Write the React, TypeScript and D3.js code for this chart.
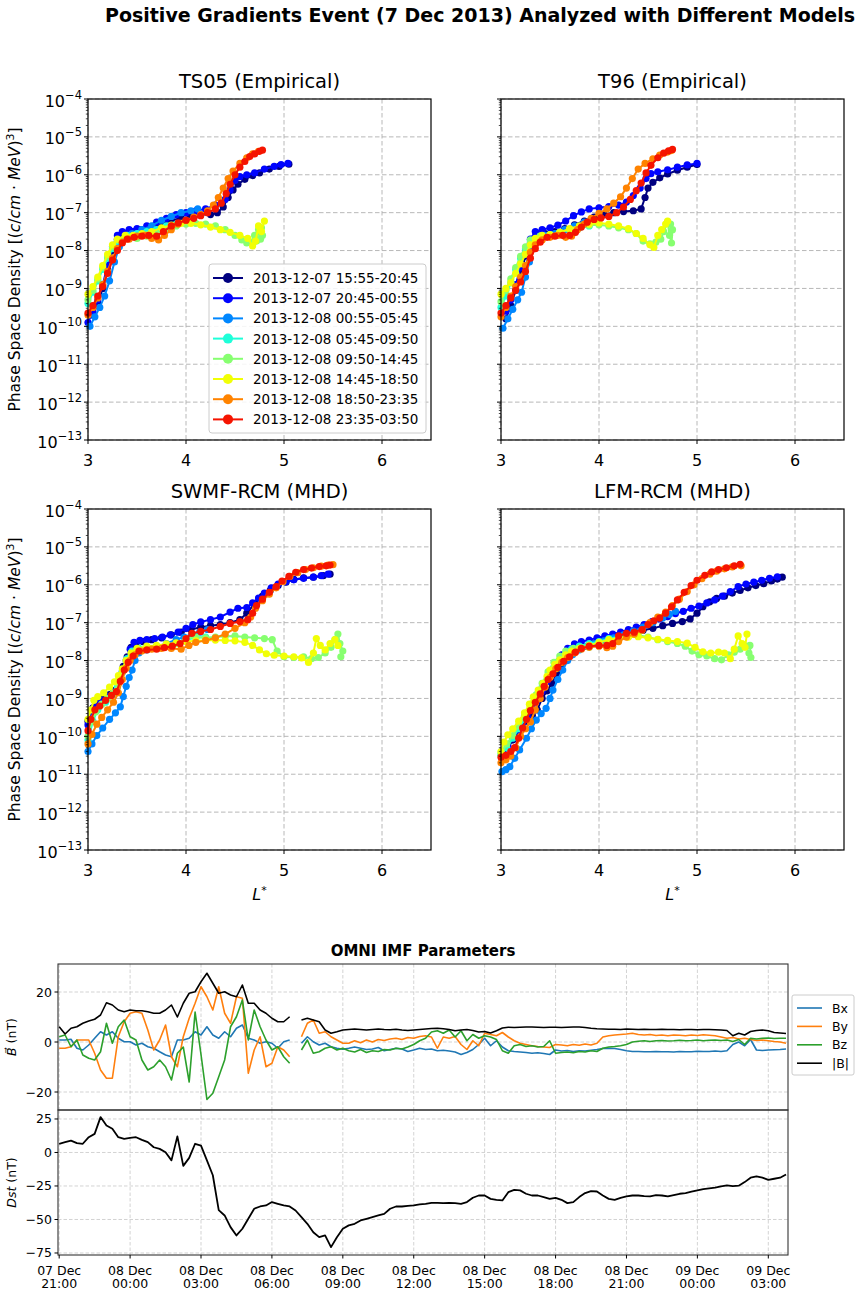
import React from "react";
import * as d3 from "d3";

const FONT = "DejaVu Sans, Verdana, sans-serif";

// eight passes, colored along the jet colormap
const PASS_LABELS = [
  "2013-12-07 15:55-20:45",
  "2013-12-07 20:45-00:55",
  "2013-12-08 00:55-05:45",
  "2013-12-08 05:45-09:50",
  "2013-12-08 09:50-14:45",
  "2013-12-08 14:45-18:50",
  "2013-12-08 18:50-23:35",
  "2013-12-08 23:35-03:50",
];
const PASS_COLORS = ["#000080", "#0004ff", "#0087ff", "#1effd9", "#87ff70", "#f1ff06", "#ff8300", "#f51400"];

const L_TICKS = [3, 4, 5, 6];
const PSD_EXPONENTS = [-4, -5, -6, -7, -8, -9, -10, -11, -12, -13];

// ---- TS05 panel, [L*, log10 PSD] ----
const TS05_1 = [[3.05,-9.7],[3.1,-9.4],[3.15,-9.0],[3.2,-8.5],[3.25,-8.0],[3.3,-7.7],[3.35,-7.55],[3.45,-7.5],[3.55,-7.45],[3.65,-7.4],[3.75,-7.3],[3.85,-7.2],[3.95,-7.15],[4.05,-7.1],[4.15,-7.05],[4.25,-7.05],[4.32,-7.0],[4.38,-6.85],[4.43,-6.6],[4.48,-6.4],[4.53,-6.25],[4.6,-6.12],[4.68,-6.02],[4.75,-5.95],[4.85,-5.85],[4.95,-5.78],[5.05,-5.72]];
const TS05_2 = [[3.0,-9.9],[3.05,-9.6],[3.1,-9.3],[3.15,-8.9],[3.2,-8.4],[3.25,-7.9],[3.3,-7.6],[3.35,-7.5],[3.42,-7.45],[3.5,-7.42],[3.6,-7.35],[3.7,-7.25],[3.8,-7.15],[3.9,-7.05],[4.0,-7.0],[4.1,-6.95],[4.2,-6.9],[4.3,-6.8],[4.4,-6.65],[4.45,-6.4],[4.5,-6.15],[4.55,-6.05],[4.62,-6.0],[4.7,-5.95],[4.8,-5.85],[4.9,-5.78],[4.97,-5.73],[5.04,-5.7]];
const TS05_3 = [[3.02,-10.0],[3.07,-9.75],[3.12,-9.5],[3.17,-9.2],[3.22,-8.8],[3.27,-8.3],[3.32,-7.9],[3.37,-7.7],[3.45,-7.55],[3.55,-7.45],[3.65,-7.35],[3.75,-7.2],[3.85,-7.1],[3.95,-7.0],[4.05,-6.95],[4.12,-6.9]];
const TS05_4 = [[3.0,-9.4],[3.05,-9.1],[3.1,-8.8],[3.15,-8.5],[3.2,-8.2],[3.25,-7.95],[3.3,-7.75],[3.4,-7.6],[3.5,-7.55],[3.6,-7.5],[3.7,-7.45],[3.8,-7.35],[3.9,-7.3],[4.0,-7.25]];
const TS05_5 = [[3.0,-9.3],[3.05,-9.05],[3.1,-8.75],[3.15,-8.45],[3.2,-8.15],[3.25,-7.9],[3.3,-7.72],[3.4,-7.65],[3.5,-7.68],[3.6,-7.62],[3.7,-7.55],[3.8,-7.45],[3.9,-7.35],[4.0,-7.3],[4.1,-7.28],[4.2,-7.3],[4.3,-7.35],[4.4,-7.45],[4.5,-7.6],[4.57,-7.72],[4.62,-7.8],[4.67,-7.78],[4.7,-7.6],[4.72,-7.75],[4.74,-7.45],[4.76,-7.7],[4.77,-7.4],[4.78,-7.6]];
const TS05_6 = [[3.0,-9.15],[3.05,-8.95],[3.1,-8.7],[3.15,-8.4],[3.2,-8.1],[3.25,-7.85],[3.3,-7.7],[3.38,-7.6],[3.46,-7.6],[3.55,-7.55],[3.65,-7.5],[3.75,-7.4],[3.85,-7.33],[3.95,-7.28],[4.05,-7.28],[4.15,-7.32],[4.25,-7.38],[4.35,-7.45],[4.45,-7.52],[4.55,-7.6],[4.63,-7.68],[4.68,-7.88],[4.71,-7.75],[4.74,-7.35],[4.77,-7.5],[4.8,-7.22]];
const TS05_7 = [[3.0,-9.7],[3.05,-9.5],[3.1,-9.25],[3.15,-8.9],[3.2,-8.55],[3.25,-8.2],[3.3,-7.95],[3.35,-7.78],[3.42,-7.7],[3.5,-7.62],[3.58,-7.6],[3.65,-7.68],[3.72,-7.72],[3.78,-7.6],[3.85,-7.45],[3.92,-7.3],[4.0,-7.2],[4.08,-7.12],[4.15,-7.05],[4.22,-6.95],[4.28,-6.8],[4.33,-6.6],[4.38,-6.35],[4.43,-6.1],[4.48,-5.9],[4.55,-5.7],[4.62,-5.55],[4.68,-5.45],[4.74,-5.38]];
const TS05_8 = [[3.0,-9.65],[3.05,-9.45],[3.1,-9.2],[3.15,-8.95],[3.2,-8.6],[3.25,-8.25],[3.3,-8.0],[3.35,-7.8],[3.4,-7.7],[3.47,-7.65],[3.55,-7.62],[3.62,-7.6],[3.7,-7.62],[3.77,-7.5],[3.85,-7.35],[3.92,-7.27],[4.0,-7.2],[4.08,-7.15],[4.15,-7.08],[4.22,-7.0],[4.3,-6.9],[4.36,-6.75],[4.41,-6.5],[4.45,-6.25],[4.5,-6.0],[4.55,-5.8],[4.6,-5.65],[4.65,-5.52],[4.7,-5.45],[4.75,-5.38],[4.78,-5.35]];

// ---- T96 panel ----
const T96_1 = [[3.05,-9.8],[3.1,-9.45],[3.15,-9.05],[3.2,-8.6],[3.25,-8.15],[3.3,-7.8],[3.36,-7.55],[3.45,-7.55],[3.55,-7.5],[3.65,-7.42],[3.75,-7.32],[3.85,-7.22],[3.95,-7.12],[4.05,-7.05],[4.15,-7.0],[4.25,-6.97],[4.35,-6.95],[4.43,-6.9],[4.47,-6.6],[4.5,-6.35],[4.55,-6.2],[4.62,-6.08],[4.7,-5.98],[4.8,-5.88],[4.9,-5.8],[5.0,-5.73]];
const T96_2 = [[3.05,-9.6],[3.1,-9.3],[3.15,-8.9],[3.2,-8.45],[3.25,-8.0],[3.3,-7.7],[3.35,-7.5],[3.42,-7.45],[3.5,-7.4],[3.58,-7.33],[3.66,-7.22],[3.74,-7.08],[3.82,-6.98],[3.9,-6.9],[4.0,-6.87],[4.1,-6.84],[4.2,-6.8],[4.28,-6.72],[4.35,-6.55],[4.42,-6.35],[4.48,-6.1],[4.53,-5.97],[4.6,-5.92],[4.7,-5.87],[4.8,-5.8],[4.9,-5.74],[5.0,-5.7]];
const T96_3 = [[3.02,-10.05],[3.07,-9.8],[3.12,-9.55],[3.17,-9.3],[3.21,-9.1],[3.25,-8.7],[3.29,-8.3],[3.33,-7.95],[3.38,-7.7],[3.45,-7.6],[3.55,-7.55],[3.65,-7.45],[3.75,-7.35],[3.85,-7.25],[3.92,-7.18]];
const T96_4 = [[3.0,-9.5],[3.05,-9.2],[3.1,-8.85],[3.15,-8.5],[3.2,-8.2],[3.25,-7.95],[3.3,-7.75],[3.4,-7.62],[3.5,-7.58],[3.6,-7.52],[3.7,-7.45],[3.8,-7.4],[3.9,-7.35]];
const T96_5 = [[3.0,-9.35],[3.05,-9.05],[3.1,-8.75],[3.15,-8.45],[3.2,-8.15],[3.25,-7.9],[3.3,-7.72],[3.4,-7.62],[3.5,-7.6],[3.6,-7.52],[3.7,-7.45],[3.8,-7.38],[3.9,-7.33],[4.0,-7.32],[4.1,-7.35],[4.2,-7.4],[4.3,-7.45],[4.38,-7.55],[4.45,-7.75],[4.52,-7.82],[4.58,-7.78],[4.63,-7.7],[4.66,-7.5],[4.7,-7.25],[4.72,-7.6],[4.74,-7.8],[4.75,-7.45],[4.73,-7.3]];
const T96_6 = [[3.0,-9.15],[3.05,-9.0],[3.1,-8.85],[3.15,-8.6],[3.2,-8.35],[3.25,-8.1],[3.3,-7.85],[3.35,-7.68],[3.42,-7.6],[3.5,-7.58],[3.6,-7.52],[3.7,-7.42],[3.8,-7.35],[3.9,-7.3],[4.0,-7.27],[4.1,-7.3],[4.2,-7.35],[4.3,-7.42],[4.38,-7.55],[4.45,-7.68],[4.52,-7.85],[4.56,-7.92],[4.6,-7.6],[4.64,-7.45],[4.68,-7.3],[4.7,-7.22]];
const T96_7 = [[3.0,-9.75],[3.05,-9.5],[3.1,-9.2],[3.15,-8.95],[3.2,-8.7],[3.25,-8.4],[3.3,-8.05],[3.35,-7.85],[3.42,-7.72],[3.5,-7.65],[3.58,-7.6],[3.66,-7.65],[3.72,-7.62],[3.78,-7.45],[3.85,-7.3],[3.92,-7.15],[4.0,-7.02],[4.08,-6.9],[4.15,-6.75],[4.22,-6.58],[4.28,-6.35],[4.34,-6.1],[4.4,-5.85],[4.47,-5.7],[4.55,-5.58],[4.62,-5.48],[4.7,-5.4],[4.74,-5.36]];
const T96_8 = [[3.0,-9.65],[3.05,-9.45],[3.1,-9.25],[3.15,-9.05],[3.2,-8.83],[3.25,-8.55],[3.3,-8.2],[3.35,-7.95],[3.4,-7.78],[3.47,-7.65],[3.55,-7.62],[3.63,-7.6],[3.7,-7.6],[3.76,-7.52],[3.82,-7.38],[3.88,-7.25],[3.95,-7.18],[4.02,-7.14],[4.1,-7.1],[4.18,-7.0],[4.25,-6.85],[4.32,-6.65],[4.38,-6.42],[4.43,-6.22],[4.48,-5.95],[4.53,-5.75],[4.6,-5.55],[4.66,-5.43],[4.71,-5.37],[4.75,-5.33]];

// ---- SWMF-RCM panel ----
const SWMF_1 = [[3.0,-9.6],[3.05,-9.25],[3.1,-9.1],[3.16,-9.0],[3.22,-8.9],[3.28,-8.78],[3.32,-8.5],[3.36,-8.15],[3.4,-7.9],[3.44,-7.65],[3.49,-7.55],[3.56,-7.5],[3.65,-7.45],[3.75,-7.4],[3.85,-7.32],[3.95,-7.25],[4.05,-7.18],[4.15,-7.12],[4.25,-7.08],[4.35,-7.05],[4.45,-7.0],[4.55,-6.92],[4.62,-6.75],[4.7,-6.5],[4.78,-6.3],[4.86,-6.15],[4.94,-6.02],[5.02,-5.93],[5.1,-5.86],[5.2,-5.82],[5.3,-5.8],[5.4,-5.76],[5.47,-5.72]];
const SWMF_2 = [[3.0,-9.7],[3.04,-9.3],[3.08,-9.15],[3.14,-9.05],[3.2,-8.95],[3.26,-8.82],[3.31,-8.6],[3.35,-8.3],[3.39,-8.0],[3.43,-7.7],[3.47,-7.52],[3.53,-7.47],[3.6,-7.45],[3.68,-7.42],[3.76,-7.38],[3.84,-7.32],[3.92,-7.25],[4.0,-7.15],[4.07,-7.05],[4.15,-6.98],[4.25,-6.92],[4.35,-6.85],[4.45,-6.72],[4.53,-6.62],[4.62,-6.6],[4.68,-6.48],[4.74,-6.35],[4.8,-6.22],[4.87,-6.08],[4.94,-5.98],[5.02,-5.92],[5.1,-5.87],[5.2,-5.83],[5.3,-5.8],[5.38,-5.76],[5.45,-5.72]];
const SWMF_3 = [[3.0,-10.4],[3.04,-10.2],[3.09,-9.98],[3.15,-9.78],[3.22,-9.55],[3.28,-9.38],[3.33,-9.22],[3.36,-8.95],[3.39,-8.68],[3.42,-8.45],[3.45,-8.25],[3.48,-8.0],[3.52,-7.8],[3.6,-7.72],[3.7,-7.65],[3.8,-7.55],[3.9,-7.45],[3.98,-7.38],[4.06,-7.3],[4.14,-7.25],[4.22,-7.18]];
const SWMF_4 = [[3.0,-10.1],[3.05,-9.6],[3.1,-9.3],[3.18,-9.1],[3.25,-8.9],[3.3,-8.7],[3.35,-8.3],[3.4,-7.95],[3.45,-7.75],[3.52,-7.68],[3.6,-7.65],[3.7,-7.62],[3.8,-7.6],[3.9,-7.55],[4.0,-7.45],[4.1,-7.4],[4.2,-7.38]];
const SWMF_5 = [[3.0,-10.0],[3.04,-9.6],[3.08,-9.35],[3.14,-9.15],[3.2,-9.0],[3.26,-8.85],[3.31,-8.6],[3.35,-8.3],[3.39,-8.0],[3.44,-7.8],[3.5,-7.72],[3.6,-7.7],[3.7,-7.68],[3.8,-7.62],[3.9,-7.55],[4.0,-7.42],[4.1,-7.38],[4.2,-7.4],[4.3,-7.38],[4.4,-7.36],[4.5,-7.35],[4.6,-7.38],[4.7,-7.4],[4.8,-7.42],[4.88,-7.45],[4.93,-7.75],[5.0,-7.9],[5.1,-7.92],[5.2,-7.9],[5.28,-7.95],[5.35,-7.92],[5.42,-7.8],[5.48,-7.65],[5.52,-7.45],[5.55,-7.3],[5.57,-7.55],[5.6,-7.75],[5.58,-7.9]];
const SWMF_6 = [[3.0,-9.55],[3.03,-9.3],[3.06,-9.05],[3.1,-8.95],[3.16,-8.85],[3.22,-8.7],[3.27,-8.56],[3.31,-8.4],[3.35,-8.22],[3.39,-8.0],[3.44,-7.8],[3.5,-7.68],[3.6,-7.62],[3.7,-7.6],[3.8,-7.56],[3.9,-7.53],[4.0,-7.5],[4.1,-7.48],[4.2,-7.47],[4.3,-7.46],[4.4,-7.47],[4.5,-7.48],[4.6,-7.52],[4.68,-7.6],[4.75,-7.72],[4.82,-7.82],[4.9,-7.86],[5.0,-7.88],[5.1,-7.9],[5.18,-7.93],[5.25,-8.05],[5.3,-7.8],[5.33,-7.42],[5.37,-7.6],[5.42,-7.72],[5.47,-7.55],[5.52,-7.45],[5.55,-7.6]];
const SWMF_7 = [[3.0,-10.2],[3.04,-9.95],[3.09,-9.68],[3.14,-9.5],[3.2,-9.3],[3.26,-9.1],[3.31,-8.85],[3.35,-8.5],[3.39,-8.2],[3.43,-8.0],[3.48,-7.85],[3.55,-7.75],[3.65,-7.7],[3.75,-7.68],[3.85,-7.68],[3.95,-7.7],[4.03,-7.6],[4.1,-7.52],[4.2,-7.47],[4.3,-7.4],[4.4,-7.3],[4.5,-7.15],[4.6,-7.0],[4.66,-6.85],[4.71,-6.62],[4.78,-6.42],[4.85,-6.25],[4.92,-6.08],[4.99,-5.92],[5.06,-5.78],[5.14,-5.68],[5.22,-5.6],[5.3,-5.55],[5.38,-5.51],[5.45,-5.48],[5.5,-5.47]];
const SWMF_8 = [[3.0,-9.85],[3.03,-9.55],[3.07,-9.3],[3.12,-9.2],[3.18,-9.05],[3.24,-8.92],[3.29,-8.82],[3.33,-8.55],[3.37,-8.25],[3.41,-8.05],[3.46,-7.88],[3.52,-7.75],[3.6,-7.72],[3.7,-7.7],[3.78,-7.66],[3.86,-7.62],[3.94,-7.55],[4.0,-7.42],[4.06,-7.28],[4.15,-7.23],[4.25,-7.18],[4.35,-7.1],[4.45,-7.02],[4.55,-6.97],[4.63,-6.92],[4.68,-6.75],[4.72,-6.55],[4.78,-6.38],[4.85,-6.2],[4.92,-6.05],[4.98,-5.9],[5.05,-5.78],[5.12,-5.67],[5.2,-5.6],[5.28,-5.56],[5.36,-5.52],[5.43,-5.5],[5.47,-5.48]];

// ---- LFM-RCM panel ----
const LFM_1 = [[3.02,-10.45],[3.07,-10.3],[3.12,-10.1],[3.17,-9.9],[3.22,-9.75],[3.27,-9.6],[3.32,-9.45],[3.37,-9.3],[3.42,-9.0],[3.47,-8.8],[3.52,-8.6],[3.57,-8.35],[3.62,-8.12],[3.68,-7.95],[3.74,-7.8],[3.8,-7.7],[3.88,-7.62],[3.96,-7.55],[4.05,-7.45],[4.15,-7.38],[4.25,-7.32],[4.35,-7.25],[4.45,-7.2],[4.55,-7.15],[4.65,-7.08],[4.75,-7.02],[4.85,-6.97],[4.93,-6.9],[5.0,-6.75],[5.06,-6.58],[5.13,-6.45],[5.2,-6.36],[5.28,-6.3],[5.36,-6.22],[5.44,-6.15],[5.52,-6.08],[5.6,-6.02],[5.68,-5.97],[5.76,-5.9],[5.82,-5.85],[5.87,-5.8]];
const LFM_2 = [[3.02,-10.4],[3.07,-10.25],[3.12,-10.05],[3.17,-9.85],[3.22,-9.68],[3.27,-9.5],[3.32,-9.3],[3.37,-9.05],[3.42,-8.8],[3.47,-8.55],[3.52,-8.3],[3.57,-8.05],[3.62,-7.85],[3.68,-7.68],[3.75,-7.56],[3.82,-7.5],[3.9,-7.46],[3.98,-7.4],[4.06,-7.35],[4.14,-7.3],[4.22,-7.25],[4.3,-7.18],[4.38,-7.12],[4.46,-7.05],[4.54,-6.97],[4.62,-6.9],[4.7,-6.84],[4.78,-6.76],[4.86,-6.7],[4.94,-6.62],[5.02,-6.56],[5.1,-6.48],[5.18,-6.4],[5.26,-6.3],[5.34,-6.18],[5.42,-6.05],[5.5,-5.98],[5.58,-5.93],[5.66,-5.88],[5.74,-5.83],[5.82,-5.79]];
const LFM_3 = [[3.01,-10.93],[3.05,-10.88],[3.09,-10.8],[3.14,-10.58],[3.19,-10.36],[3.26,-10.05],[3.31,-9.8],[3.36,-9.57],[3.41,-9.4],[3.46,-9.26],[3.5,-9.0],[3.53,-8.78],[3.58,-8.5],[3.63,-8.25],[3.68,-8.0],[3.73,-7.85],[3.8,-7.72],[3.88,-7.62],[3.96,-7.55],[4.05,-7.48],[4.15,-7.4],[4.25,-7.32],[4.35,-7.22],[4.45,-7.12],[4.55,-7.0],[4.65,-6.88],[4.72,-6.78],[4.78,-6.7]];
const LFM_4 = [[3.0,-10.5],[3.06,-10.3],[3.12,-10.05],[3.18,-9.8],[3.24,-9.55],[3.3,-9.3],[3.36,-9.0],[3.42,-8.7],[3.48,-8.42],[3.54,-8.18],[3.6,-7.98],[3.66,-7.82],[3.72,-7.7],[3.8,-7.62],[3.9,-7.55],[4.0,-7.5],[4.1,-7.42],[4.2,-7.38],[4.3,-7.35]];
const LFM_5 = [[3.0,-10.45],[3.06,-10.2],[3.12,-9.98],[3.18,-9.72],[3.24,-9.45],[3.3,-9.2],[3.36,-8.9],[3.42,-8.6],[3.48,-8.3],[3.54,-8.05],[3.6,-7.88],[3.66,-7.75],[3.74,-7.68],[3.82,-7.66],[3.9,-7.65],[4.0,-7.6],[4.1,-7.5],[4.2,-7.42],[4.3,-7.36],[4.4,-7.33],[4.5,-7.38],[4.6,-7.45],[4.7,-7.5],[4.8,-7.55],[4.88,-7.62],[4.95,-7.75],[5.02,-7.85],[5.1,-7.88],[5.18,-7.95],[5.25,-7.98],[5.32,-7.85],[5.38,-7.78],[5.44,-7.7],[5.5,-7.62],[5.53,-7.8],[5.55,-7.92],[5.54,-7.6]];
const LFM_6 = [[3.0,-10.4],[3.03,-10.15],[3.07,-9.96],[3.12,-9.8],[3.18,-9.6],[3.24,-9.38],[3.29,-9.15],[3.33,-8.96],[3.38,-8.78],[3.43,-8.6],[3.47,-8.42],[3.5,-8.25],[3.55,-8.1],[3.6,-7.98],[3.66,-7.85],[3.72,-7.75],[3.8,-7.68],[3.9,-7.6],[4.0,-7.52],[4.1,-7.45],[4.2,-7.4],[4.3,-7.38],[4.4,-7.37],[4.5,-7.4],[4.6,-7.44],[4.7,-7.47],[4.8,-7.5],[4.9,-7.54],[4.98,-7.65],[5.06,-7.77],[5.14,-7.8],[5.22,-7.78],[5.28,-7.8],[5.34,-7.95],[5.38,-7.7],[5.42,-7.35],[5.46,-7.55],[5.49,-7.65],[5.51,-7.3]];
const LFM_7 = [[3.0,-10.7],[3.05,-10.62],[3.1,-10.52],[3.15,-10.3],[3.2,-10.0],[3.25,-9.8],[3.3,-9.62],[3.35,-9.3],[3.4,-9.0],[3.45,-8.7],[3.5,-8.45],[3.56,-8.22],[3.62,-8.05],[3.68,-7.92],[3.75,-7.8],[3.82,-7.7],[3.9,-7.65],[4.0,-7.62],[4.08,-7.66],[4.14,-7.62],[4.2,-7.5],[4.28,-7.38],[4.36,-7.3],[4.44,-7.2],[4.52,-7.0],[4.6,-6.85],[4.68,-6.72],[4.75,-6.55],[4.82,-6.38],[4.9,-6.18],[4.97,-6.0],[5.05,-5.84],[5.13,-5.72],[5.2,-5.64],[5.28,-5.58],[5.36,-5.53],[5.45,-5.5]];
const LFM_8 = [[3.0,-10.55],[3.05,-10.5],[3.1,-10.4],[3.14,-10.3],[3.18,-10.05],[3.22,-9.78],[3.26,-9.55],[3.3,-9.32],[3.35,-9.1],[3.4,-8.88],[3.44,-8.68],[3.48,-8.5],[3.53,-8.35],[3.58,-8.18],[3.64,-8.02],[3.7,-7.9],[3.76,-7.78],[3.82,-7.68],[3.9,-7.62],[4.0,-7.6],[4.08,-7.6],[4.14,-7.55],[4.2,-7.35],[4.28,-7.28],[4.36,-7.25],[4.44,-7.18],[4.5,-7.05],[4.56,-6.95],[4.62,-6.88],[4.68,-6.75],[4.74,-6.58],[4.8,-6.4],[4.87,-6.2],[4.94,-6.02],[5.0,-5.88],[5.08,-5.75],[5.15,-5.66],[5.22,-5.6],[5.3,-5.55],[5.38,-5.5],[5.44,-5.46]];

const TS05_PASSES = [TS05_1, TS05_2, TS05_3, TS05_4, TS05_5, TS05_6, TS05_7, TS05_8];
const T96_PASSES = [T96_1, T96_2, T96_3, T96_4, T96_5, T96_6, T96_7, T96_8];
const SWMF_PASSES = [SWMF_1, SWMF_2, SWMF_3, SWMF_4, SWMF_5, SWMF_6, SWMF_7, SWMF_8];
const LFM_PASSES = [LFM_1, LFM_2, LFM_3, LFM_4, LFM_5, LFM_6, LFM_7, LFM_8];

// ---- OMNI, 15 min samples from 07 Dec 21:00 UTC (null = data gap) ----
const OMNI_START = Date.UTC(2013, 11, 7, 21, 0);
const OMNI_STEP_MIN = 15;
const IMF_BX = [0.8,0.8,1.1,-2.5,-3.2,-1.2,1.5,4.1,2.8,4.1,1.5,0.1,0.1,-1.2,-0.5,-1.9,-2.5,-3.9,-5.2,-5.9,0.8,0.8,1.5,4.1,2.8,6.1,2.8,1.5,4.1,2.1,5.5,6.8,1.5,0.8,-0.5,0.1,-0.5,-2.5,0.1,0.8,null,-0.5,2.1,0.1,-1.2,-0.5,-1.9,-2.5,-2.9,
  -2.5,-2.0,-2.5,-3.0,-2.8,-2.2,-3.5,-3.0,-2.5,-2.8,-3.8,-3.2,-2.5,-3.0,-2.8,-3.5,-3.3,-3.6,-4.0,-5.0,-4.2,-3.0,-1.0,1.5,-1.5,0.5,-2.0,-3.5,-3.8,-4.0,
  -4.2,-4.5,-4.3,-4.6,-5.0,-3.2,-3.6,-3.4,-3.8,-3.5,-3.6,-3.3,-3.0,-2.6,-2.5,-2.6,-3.0,-3.5,-3.8,-3.8,-3.9,-3.9,-3.8,-3.9,-3.9,-4.0,-3.8,-3.9,-3.9,-3.7,
  -3.8,-3.8,-3.6,-3.8,-3.5,-1.0,0.0,-1.5,1.0,-3.2,-3.4,-3.2,-3.1,-3.0,-2.8];
const IMF_BY = [-2.5,-2.5,-1.9,0.8,0.8,0.8,-4.5,-11.2,-14.5,-14.5,2.1,8.1,11.5,12.1,11.5,4.8,-3.2,0.8,6.8,-5.9,-9.9,2.1,9.5,15.5,22.1,18.1,12.8,22.1,11.5,7.5,18.1,17.5,-12.5,-3.2,2.1,-9.9,-8.5,-1.9,-3.2,-5.9,null,2.1,7.5,8.8,3.5,4.1,2.1,0.8,-0.5,
  -0.5,0.5,-0.3,0.8,0.0,1.0,0.6,1.2,1.5,1.0,1.8,1.5,2.2,2.5,2.0,-2.5,2.0,1.5,2.2,-1.0,-3.0,0.5,-1.5,3.5,3.0,2.5,3.8,2.0,0.5,-0.5,
  -1.0,-1.5,-1.8,-2.0,-2.2,-1.0,-1.2,-1.5,-1.0,-1.3,-0.8,-1.2,-0.5,2.0,2.5,2.8,3.0,3.2,3.5,3.0,2.8,3.0,2.6,2.8,2.5,2.8,2.7,2.5,2.8,2.6,
  2.9,2.7,2.5,2.0,1.5,1.8,1.2,1.5,1.0,0.6,0.8,0.5,0.2,0.0,-0.5];
const IMF_BZ = [2.1,2.8,-1.9,0.8,-5.2,-6.5,-7.2,-3.9,7.5,-0.5,6.1,8.8,2.1,0.8,-7.2,-11.2,-9.9,-7.2,-9.9,-15.2,-4.5,-2.0,-16.0,12.0,-5.0,-23.0,-20.5,-13.9,-7.2,6.1,10.1,16.8,0.8,12.8,6.1,0.8,-3.2,-1.9,-5.9,-8.5,null,-3.2,0.8,-4.5,-3.9,-2.5,-1.9,-3.2,-2.5,
  -3.5,-4.0,-3.0,-4.2,-3.5,-3.8,-3.0,-3.2,-2.5,-2.8,-2.0,-1.0,0.5,1.5,4.0,4.5,3.5,4.8,2.0,4.5,0.5,3.0,1.5,2.5,2.0,1.0,-3.5,-4.5,-1.5,-1.0,
  -1.8,-1.5,-2.0,-1.8,0.5,-4.5,-4.2,-4.0,-4.3,-3.8,-4.0,-3.5,-3.8,-2.5,-2.0,-1.8,-1.5,-1.0,0.0,0.3,0.5,0.2,0.5,0.6,0.4,0.5,0.7,0.5,0.6,0.8,
  0.5,0.7,0.8,0.6,0.8,0.2,1.0,-1.0,1.5,1.2,1.5,1.6,1.4,1.5,1.5];
const IMF_BMAG = [6.1,3.2,5.5,6.1,7.5,8.4,9.1,10.8,15.7,14.8,12.8,12.1,12.8,12.5,12.5,12.1,11.5,11.5,12.8,14.8,10.0,15.5,19.5,20.1,24.1,27.5,23.5,19.5,20.1,18.8,18.1,22.8,15.5,15.5,12.8,11.5,9.5,8.1,8.1,10.1,null,8.8,9.5,8.8,8.1,4.8,3.5,4.1,4.8,
  5.0,5.2,5.0,4.8,5.0,5.2,5.0,4.9,5.1,4.8,4.6,4.8,5.0,5.2,5.4,5.5,5.3,5.0,4.5,4.8,5.0,4.6,4.0,4.2,3.6,4.5,5.6,5.9,5.8,5.9,
  6.0,6.0,5.9,5.8,5.9,5.9,5.8,5.9,6.0,6.0,5.8,5.5,5.3,5.2,5.1,5.1,5.0,5.2,5.1,5.0,5.1,5.0,5.0,5.1,5.0,5.0,4.9,5.0,5.0,4.9,
  5.0,5.0,4.9,4.8,4.6,2.5,3.5,2.8,4.2,4.6,4.8,4.5,3.8,3.6,3.4];
const DST = [6.5,7.7,8.9,7.0,6.5,11.4,13.9,26.4,20.1,17.7,11.4,10.2,10.9,11.4,9.4,7.7,3.9,2.7,0.2,-5.9,
  12.0,-10.0,-4.0,6.5,5.1,-5.9,-17.0,-43.0,-47.0,-55.7,-61.9,-56.9,-49.5,-42.0,-40.3,-39.5,-37.0,-38.3,-39.5,-40.3,
  -43.3,-48.3,-53.2,-59.5,-63.2,-61.9,-70.6,-63.2,-56.9,-54.4,-53.2,-50.7,-49.5,-48.3,-47.0,-45.8,-42.0,-40.3,-40.3,-39.8,
  -39.5,-38.8,-38.3,-37.6,-37.6,-37.8,-37.6,-37.8,-38.3,-37.0,-33.8,-32.1,-32.1,-34.6,-35.3,-35.8,-29.6,-27.9,-28.3,-30.8,
  -32.1,-32.1,-33.3,-34.6,-33.8,-35.3,-37.8,-37.0,-33.3,-30.3,-28.8,-29.1,-32.1,-34.6,-35.3,-33.8,-32.8,-32.1,-32.1,-32.6,
  -32.8,-31.8,-32.1,-32.8,-31.8,-30.8,-30.3,-29.3,-28.3,-27.3,-26.8,-26.3,-25.3,-24.6,-25.1,-24.8,-22.1,-18.8,-17.9,-18.8,
  -20.4,-19.6,-18.8,-16.4];

const IMF_NAMES = ["Bx", "By", "Bz", "|B|"];
const IMF_COLORS = ["#1f77b4", "#ff7f0e", "#2ca02c", "#000000"];
const IMF_TICKS = [20, 0, -20];
const DST_TICKS = [25, 0, -25, -50, -75];

const GRID = "#b0b0b0";

function PsdPanel({ x0, y0, title, passes, yLabels, legend, xTitle }: any) {
  const W = 343;
  const H = 341;
  const x = d3.scaleLinear().domain([3, 6.5]).range([x0, x0 + W]);
  const y = d3.scaleLog().domain([1e-13, 1e-4]).range([y0 + H, y0]);
  const line = d3.line<number[]>().x((d) => x(d[0])).y((d) => y(Math.pow(10, d[1])));
  const minor: number[] = [];
  for (let e = -13; e < -4; e++) for (let m = 2; m < 10; m++) minor.push(m * Math.pow(10, e));

  return (
    <g>
      {/* grid */}
      {L_TICKS.map((t) => (
        <line key={"gx" + t} x1={x(t)} x2={x(t)} y1={y0} y2={y0 + H} stroke={GRID} strokeWidth={0.9} strokeDasharray="4.5,2.5" />
      ))}
      {PSD_EXPONENTS.map((e) => (
        <line key={"gy" + e} x1={x0} x2={x0 + W} y1={y(Math.pow(10, e))} y2={y(Math.pow(10, e))} stroke={GRID} strokeWidth={0.9} strokeDasharray="4.5,2.5" />
      ))}
      {/* passes */}
      {passes.map((pts: number[][], i: number) => (
        <g key={"p" + i}>
          <path d={line(pts) || ""} fill="none" stroke={PASS_COLORS[i]} strokeWidth={2} />
          {pts.map((d, j) => (
            <circle key={j} cx={x(d[0])} cy={y(Math.pow(10, d[1]))} r={3.6} fill={PASS_COLORS[i]} />
          ))}
        </g>
      ))}
      {/* frame */}
      <rect x={x0} y={y0} width={W} height={H} fill="none" stroke="#000" strokeWidth={1.2} />
      {/* ticks */}
      {PSD_EXPONENTS.map((e) => (
        <line key={"ty" + e} x1={x0 - 4} x2={x0} y1={y(Math.pow(10, e))} y2={y(Math.pow(10, e))} stroke="#000" strokeWidth={1} />
      ))}
      {minor.map((v, i) => (
        <line key={"tm" + i} x1={x0 - 2.2} x2={x0} y1={y(v)} y2={y(v)} stroke="#000" strokeWidth={0.7} />
      ))}
      {L_TICKS.map((t) => (
        <line key={"tx" + t} x1={x(t)} x2={x(t)} y1={y0 + H} y2={y0 + H + 4} stroke="#000" strokeWidth={1} />
      ))}
      {L_TICKS.map((t) => (
        <text key={"lx" + t} x={x(t)} y={y0 + H + 26} textAnchor="middle" fontSize={16} fontFamily={FONT}>{t}</text>
      ))}
      {yLabels &&
        PSD_EXPONENTS.map((e) => (
          <text key={"ly" + e} x={x0 - 6} y={y(Math.pow(10, e)) + 7.5} textAnchor="end" fontSize={16} fontFamily={FONT}>
            10<tspan dy={-8} fontSize={11.5}>{"\u2212" + Math.abs(e)}</tspan>
          </text>
        ))}
      {yLabels && (
        <text transform={`translate(20,${y0 + H / 2}) rotate(-90)`} textAnchor="middle" fontSize={15.5} fontFamily={FONT}>
          Phase Space Density [(<tspan fontStyle="italic">c</tspan>/<tspan fontStyle="italic">cm</tspan> · <tspan fontStyle="italic">MeV</tspan>)
          <tspan dy={-6} fontSize={11}>3</tspan>
          <tspan dy={6}>]</tspan>
        </text>
      )}
      <text x={x0 + W / 2} y={y0 - 11} textAnchor="middle" fontSize={19.5} fontFamily={FONT}>{title}</text>
      {xTitle && (
        <text x={x0 + W / 2} y={y0 + H + 50} textAnchor="middle" fontSize={16} fontFamily={FONT} fontStyle="italic">
          L<tspan dy={-6} fontSize={11} fontStyle="normal">*</tspan>
        </text>
      )}
      {legend && (
        <g>
          <rect x={209} y={264} width={217} height={169} rx={3} fill="#fff" fillOpacity={0.85} stroke="#cccccc" strokeWidth={1} />
          {PASS_LABELS.map((lab, i) => (
            <g key={lab} transform={`translate(0,${278 + i * 20.2})`}>
              <line x1={213} x2={243} y1={0} y2={0} stroke={PASS_COLORS[i]} strokeWidth={2} />
              <circle cx={228} cy={0} r={5} fill={PASS_COLORS[i]} />
              <text x={253} y={5} fontSize={13.5} fontFamily={FONT}>{lab}</text>
            </g>
          ))}
        </g>
      )}
    </g>
  );
}

function OmniPanel() {
  const left = 58;
  const right = 788;
  const top = 964;
  const mid = 1110;
  const bottom = 1255;
  const times = IMF_BX.map((_, i) => new Date(OMNI_START + i * OMNI_STEP_MIN * 60000));
  const x = d3.scaleUtc().domain([new Date(Date.UTC(2013, 11, 7, 20, 57)), new Date(Date.UTC(2013, 11, 9, 3, 50))]).range([left, right]);
  const yB = d3.scaleLinear().domain([-27.2, 31.2]).range([mid, top]);
  const yD = d3.scaleLinear().domain([-76.5, 31.7]).range([bottom, mid]);
  const ticks = x.ticks(d3.utcHour.every(3) as any);
  const fmtDay = d3.utcFormat("%d %b");
  const fmtHour = d3.utcFormat("%H:%M");
  const fmt = d3.format("d");

  const mkLine = (ys: any, vals: (number | null)[]) =>
    d3
      .line<number>()
      .defined((_, i) => vals[i] != null)
      .x((_, i) => x(times[i]))
      .y((_, i) => ys(vals[i] as number))(vals as number[]) || "";

  const imf = [IMF_BX, IMF_BY, IMF_BZ, IMF_BMAG];

  return (
    <g>
      <text x={(left + right) / 2} y={956} textAnchor="middle" fontSize={15} fontWeight="bold" fontFamily={FONT}>OMNI IMF Parameters</text>
      {/* grid */}
      {ticks.map((t, i) => (
        <g key={"gx" + i}>
          <line x1={x(t)} x2={x(t)} y1={top} y2={mid} stroke={GRID} strokeOpacity={0.7} strokeWidth={0.8} strokeDasharray="3.5,2" />
          <line x1={x(t)} x2={x(t)} y1={mid} y2={bottom} stroke={GRID} strokeOpacity={0.7} strokeWidth={0.8} strokeDasharray="3.5,2" />
        </g>
      ))}
      {IMF_TICKS.map((t) => (
        <line key={"gb" + t} x1={left} x2={right} y1={yB(t)} y2={yB(t)} stroke={GRID} strokeOpacity={0.7} strokeWidth={0.8} strokeDasharray="3.5,2" />
      ))}
      {DST_TICKS.map((t) => (
        <line key={"gd" + t} x1={left} x2={right} y1={yD(t)} y2={yD(t)} stroke={GRID} strokeOpacity={0.7} strokeWidth={0.8} strokeDasharray="3.5,2" />
      ))}
      {/* IMF lines */}
      {imf.map((vals, k) => (
        <path key={"imf" + k} d={mkLine(yB, vals)} fill="none" stroke={IMF_COLORS[k]} strokeWidth={1.6} strokeLinejoin="round" />
      ))}
      <path d={mkLine(yD, DST)} fill="none" stroke="#000" strokeWidth={1.8} strokeLinejoin="round" />
      {/* frames */}
      <rect x={left} y={top} width={right - left} height={mid - top} fill="none" stroke="#333" strokeWidth={1.1} />
      <rect x={left} y={mid} width={right - left} height={bottom - mid} fill="none" stroke="#333" strokeWidth={1.1} />
      {/* y ticks */}
      {IMF_TICKS.map((t) => (
        <g key={"tb" + t}>
          <line x1={left - 3.5} x2={left} y1={yB(t)} y2={yB(t)} stroke="#000" />
          <text x={left - 6} y={yB(t) + 4.5} textAnchor="end" fontSize={12.5} fontFamily={FONT}>{fmt(t)}</text>
        </g>
      ))}
      {DST_TICKS.map((t) => (
        <g key={"td" + t}>
          <line x1={left - 3.5} x2={left} y1={yD(t)} y2={yD(t)} stroke="#000" />
          <text x={left - 6} y={yD(t) + 4.5} textAnchor="end" fontSize={12.5} fontFamily={FONT}>{fmt(t)}</text>
        </g>
      ))}
      {/* x ticks */}
      {ticks.map((t, i) => (
        <g key={"tx" + i}>
          <line x1={x(t)} x2={x(t)} y1={bottom} y2={bottom + 3.5} stroke="#000" />
          <text x={x(t)} y={bottom + 20} textAnchor="middle" fontSize={12.5} fontFamily={FONT}>{fmtDay(t)}</text>
          <text x={x(t)} y={bottom + 33} textAnchor="middle" fontSize={12.5} fontFamily={FONT}>{fmtHour(t)}</text>
        </g>
      ))}
      {/* y labels */}
      <text transform={`translate(16,${(top + mid) / 2}) rotate(-90)`} textAnchor="middle" fontSize={12.5} fontFamily={FONT}>
        <tspan fontStyle="italic">{"B\u20D7"}</tspan> (nT)
      </text>
      <text transform={`translate(16,${(mid + bottom) / 2}) rotate(-90)`} textAnchor="middle" fontSize={12.5} fontFamily={FONT}>
        <tspan fontStyle="italic">Dst</tspan> (nT)
      </text>
      {/* legend */}
      <rect x={792} y={995} width={62} height={80} rx={2} fill="#fff" stroke="#cccccc" />
      {IMF_NAMES.map((n, k) => (
        <g key={n}>
          <line x1={797} x2={822} y1={1008 + k * 18.4} y2={1008 + k * 18.4} stroke={IMF_COLORS[k]} strokeWidth={1.6} />
          <text x={832} y={1008 + k * 18.4 + 4.5} fontSize={12.5} fontFamily={FONT}>{n}</text>
        </g>
      ))}
    </g>
  );
}

export default function App() {
  return (
    <svg width={858} height={1291} style={{ position: "absolute", left: 0, top: 0, background: "#fff" }}>
      <rect width={858} height={1291} fill="#fff" />
      <text x={480} y={22} textAnchor="middle" fontSize={19} fontWeight="bold" fontFamily={FONT}>
        Positive Gradients Event (7 Dec 2013) Analyzed with Different Models
      </text>
      <PsdPanel x0={88} y0={99} title="TS05 (Empirical)" passes={TS05_PASSES} yLabels legend />
      <PsdPanel x0={501} y0={99} title="T96 (Empirical)" passes={T96_PASSES} />
      <PsdPanel x0={88} y0={509} title="SWMF-RCM (MHD)" passes={SWMF_PASSES} yLabels xTitle />
      <PsdPanel x0={501} y0={509} title="LFM-RCM (MHD)" passes={LFM_PASSES} xTitle />
      <OmniPanel />
    </svg>
  );
}
